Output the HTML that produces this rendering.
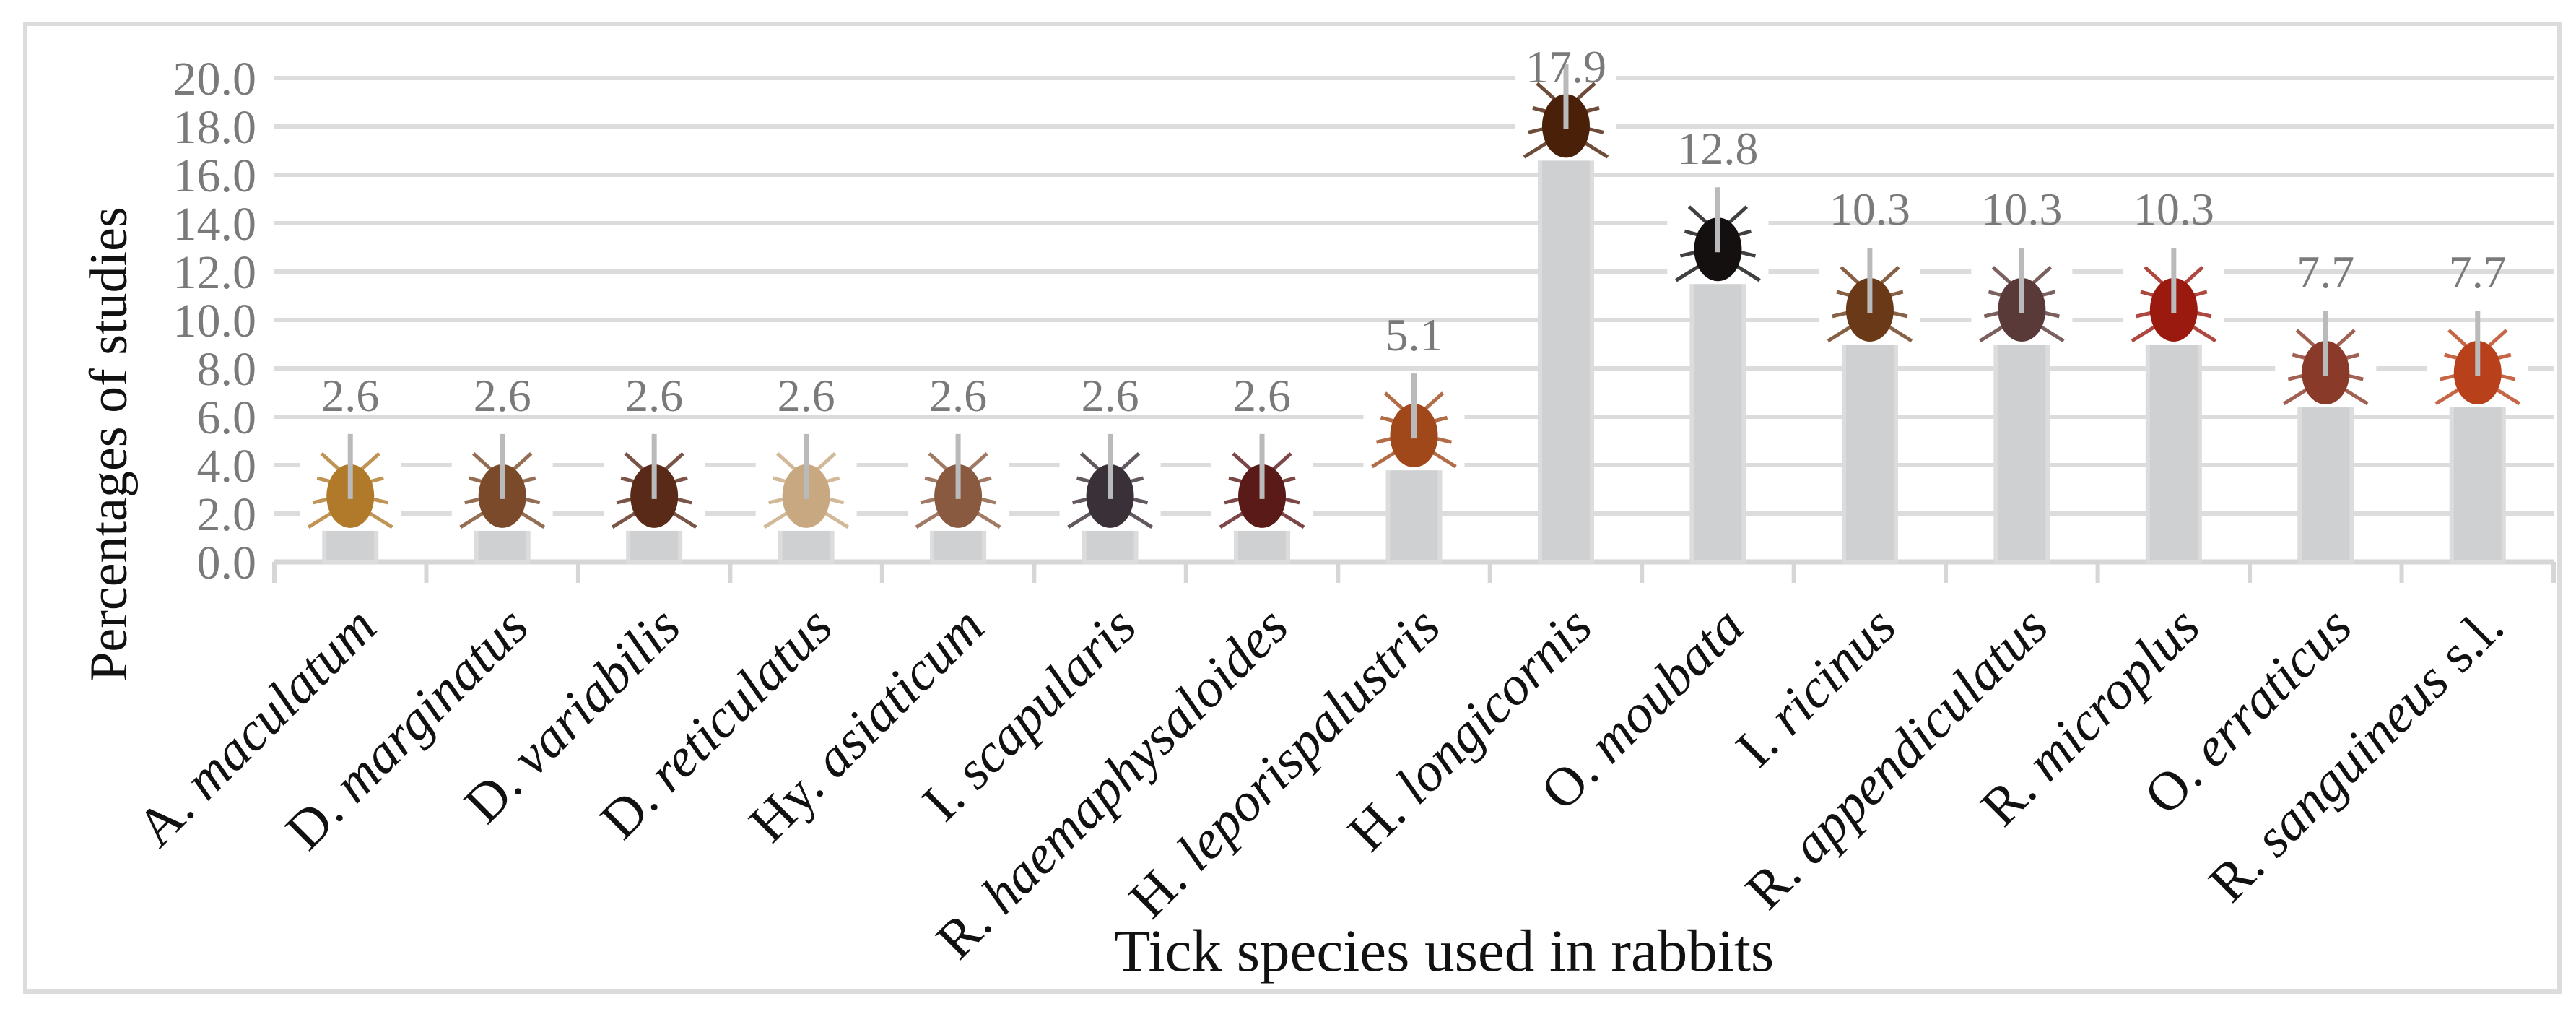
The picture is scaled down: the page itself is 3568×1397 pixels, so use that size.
<!DOCTYPE html>
<html><head><meta charset="utf-8"><style>
html,body{margin:0;padding:0;background:#fff;}
svg{display:block;font-family:"Liberation Serif",serif;}
</style></head><body>
<svg id="chart" width="3568" height="1397" viewBox="0 0 3568 1397" xmlns="http://www.w3.org/2000/svg">
<rect x="35" y="33" width="3510" height="1340" fill="#fff" stroke="#dcdcdc" stroke-width="6"/>
<g id="grid"></g><g id="bars"></g><g id="marks"></g><g id="labels"></g>
<text transform="translate(175,615) rotate(-90)" text-anchor="middle" font-size="74" fill="#111">Percentages of studies</text>
<text x="2000" y="1344" text-anchor="middle" font-size="83" fill="#111">Tick species used in rabbits</text>
</svg>
<script>
const categories=["A. maculatum","D. marginatus","D. variabilis","D. reticulatus","Hy. asiaticum","I. scapularis","R. haemaphysaloides","H. leporispalustris","H. longicornis","O. moubata","I. ricinus","R. appendiculatus","R. microplus","O. erraticus","R. sanguineus s.l."];
const values=[2.6,2.6,2.6,2.6,2.6,2.6,2.6,5.1,17.9,12.8,10.3,10.3,10.3,7.7,7.7];
const valueLabels=["2.6","2.6","2.6","2.6","2.6","2.6","2.6","5.1","17.9","12.8","10.3","10.3","10.3","7.7","7.7"];
const yTicks=[0,2,4,6,8,10,12,14,16,18,20];
const yTickLabels=["0.0","2.0","4.0","6.0","8.0","10.0","12.0","14.0","16.0","18.0","20.0"];
const tickColors=["#b07a2a","#7a4a2a","#5a2a18","#c8a880","#8a5a40","#3a3038","#5a1a18","#a0481a","#4a2008","#141010","#6a3a18","#5a3a38","#9a1a10","#8a3a28","#b8401a"];

const NS="http://www.w3.org/2000/svg";
const X0=380,X1=3537,Y0=778,Y20=108;
const step=(X1-X0)/categories.length;
const y=v=>Y0-(Y0-Y20)*v/20;
const xc=i=>X0+step*(i+0.5);
function mk(tag,attrs,parent,txt){const e=document.createElementNS(NS,tag);for(const k in attrs)e.setAttribute(k,attrs[k]);if(txt!==undefined)e.textContent=txt;parent.appendChild(e);return e;}
const grid=document.getElementById('grid'),bars=document.getElementById('bars'),marks=document.getElementById('marks'),labels=document.getElementById('labels');
yTicks.forEach((t,i)=>{
  const l=mk('line',{x1:X0,x2:X1,y1:y(t),y2:y(t),stroke:'#dcdcdc','stroke-width':6},grid);
  
  
  const tx=mk('text',{x:355,y:y(t)+23,'text-anchor':'end','font-size':66,fill:'#7a7a7a'},labels,yTickLabels[i]);
  
  
});
const ax=mk('line',{x1:X0,x2:X1,y1:Y0,y2:Y0,stroke:'#d6d6d6','stroke-width':7},grid);


for(let i=0;i<=categories.length;i++){
  const tk=mk('line',{x1:X0+step*i,x2:X0+step*i,y1:Y0,y2:Y0+29,stroke:'#d6d6d6','stroke-width':6},grid);
  
  
}
values.forEach((v,i)=>{
  const cx=xc(i),yv=y(v),bw=72;
  const b=mk('rect',{x:cx-bw/2,y:yv,width:bw,height:Y0-yv,fill:'#cfd0d2',stroke:'#dcdcdc','stroke-width':6},bars);
  
  
  const g=mk('g',{},marks);
  
  
  const ec=yv-12,c=tickColors[i];
  mk('rect',{x:cx-70,y:ec-62,width:140,height:118,fill:'#fff'},g);
  for(let k=0;k<4;k++){
    const dy=-30+k*20,sx=40+k*6;
    mk('line',{x1:cx,y1:ec+dy/2,x2:cx-sx,y2:ec+dy+(k-1.5)*14,stroke:c,'stroke-width':5,opacity:0.8},g);
    mk('line',{x1:cx,y1:ec+dy/2,x2:cx+sx,y2:ec+dy+(k-1.5)*14,stroke:c,'stroke-width':5,opacity:0.8},g);
  }
  mk('ellipse',{cx:cx,cy:ec+8,rx:33,ry:44,fill:c},g);
  mk('line',{x1:cx,x2:cx,y1:yv,y2:yv-90,stroke:'#b9babc','stroke-width':7},g);
  const vl=mk('text',{x:cx,y:Math.max(yv-122,114),'text-anchor':'middle','font-size':64,fill:'#7a7a7a'},labels,valueLabels[i]);
  
  
  const parts=categories[i].split(' ');
  const cl=mk('text',{transform:`translate(${cx+40},${Y0+94}) rotate(-45)`,'text-anchor':'end','font-size':76,fill:'#111'},labels);
  
  
  mk('tspan',{},cl,parts[0]+' ');
  mk('tspan',{'font-style':'italic'},cl,parts[1]);
  if(parts[2]) mk('tspan',{},cl,' '+parts[2]);
});
</script>
</body></html>
